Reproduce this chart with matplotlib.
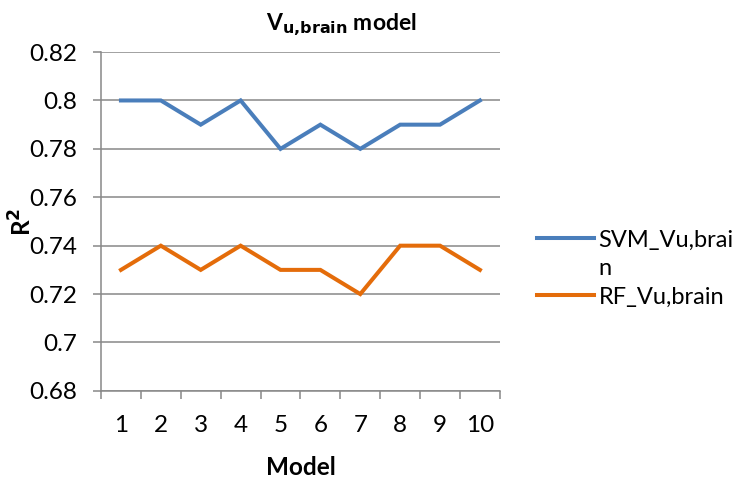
import matplotlib
matplotlib.use("Agg")
import matplotlib.pyplot as plt
from matplotlib.lines import Line2D

models = [1, 2, 3, 4, 5, 6, 7, 8, 9, 10]
svm_r2 = [0.80, 0.80, 0.79, 0.80, 0.78, 0.79, 0.78, 0.79, 0.79, 0.80]
rf_r2 = [0.73, 0.74, 0.73, 0.74, 0.73, 0.73, 0.72, 0.74, 0.74, 0.73]
y_ticks = [0.68, 0.70, 0.72, 0.74, 0.76, 0.78, 0.80, 0.82]
y_tick_labels = ["0.68", "0.7", "0.72", "0.74", "0.76", "0.78", "0.8", "0.82"]
# legend text wraps inside the legend box
legend_lines = ["SVM_Vu,brai", "n", "RF_Vu,brain"]

plt.rcParams["font.family"] = ["Lato", "DejaVu Sans"]

fig = plt.figure(figsize=(7.40, 4.82), dpi=100)
ax = fig.add_axes([0.1365, 0.189, 0.539, 0.703])

grid_c = "#888888"
ax.set_ylim(0.68, 0.82)
ax.set_xlim(0.5, 10.5)
ax.set_yticks(y_ticks)
ax.set_yticklabels(y_tick_labels)
ax.yaxis.grid(True, color=grid_c, linewidth=1.1)
ax.set_axisbelow(True)

ax.set_xticks([m - 0.5 for m in models] + [10.5])
ax.set_xticklabels([])
ax.set_xticks(models, minor=True)
ax.set_xticklabels([str(m) for m in models], minor=True)
ax.tick_params(axis="x", which="minor", length=0, pad=17, labelsize=17.5)
ax.tick_params(axis="x", which="major", length=6, color=grid_c, width=1.1)
ax.tick_params(axis="y", length=6, color=grid_c, width=1.1, labelsize=17.5, pad=11)

for side in ["top", "right"]:
    ax.spines[side].set_visible(False)
for side in ["left", "bottom"]:
    ax.spines[side].set_color(grid_c)
    ax.spines[side].set_linewidth(1.1)

l1, = ax.plot(models, svm_r2, color="#4A7EBB", linewidth=2.9, solid_joinstyle="miter")
l2, = ax.plot(models, rf_r2, color="#E46C0A", linewidth=2.9, solid_joinstyle="miter")

fig.text(0.461, 0.938, r"V$_{\mathbf{u{,}brain}}$ model", fontsize=16.5,
         fontweight="bold", ha="center", va="baseline")
ax.set_xlabel("Model", fontsize=17.5, fontweight="bold", labelpad=15)
ax.set_ylabel(r"R$^{\mathbf{2}}$", fontsize=17.5, fontweight="bold")
ax.yaxis.set_label_coords(-0.163, 0.5)

blank = Line2D([], [], linestyle="none")
fig.legend([l1, blank, l2], legend_lines, loc="upper left",
           bbox_to_anchor=(0.7257, 0.524), frameon=False, fontsize=17,
           handlelength=2.4, handletextpad=0.2, labelspacing=0.32,
           borderpad=0, borderaxespad=0)

fig.savefig("out.png", dpi=100)
